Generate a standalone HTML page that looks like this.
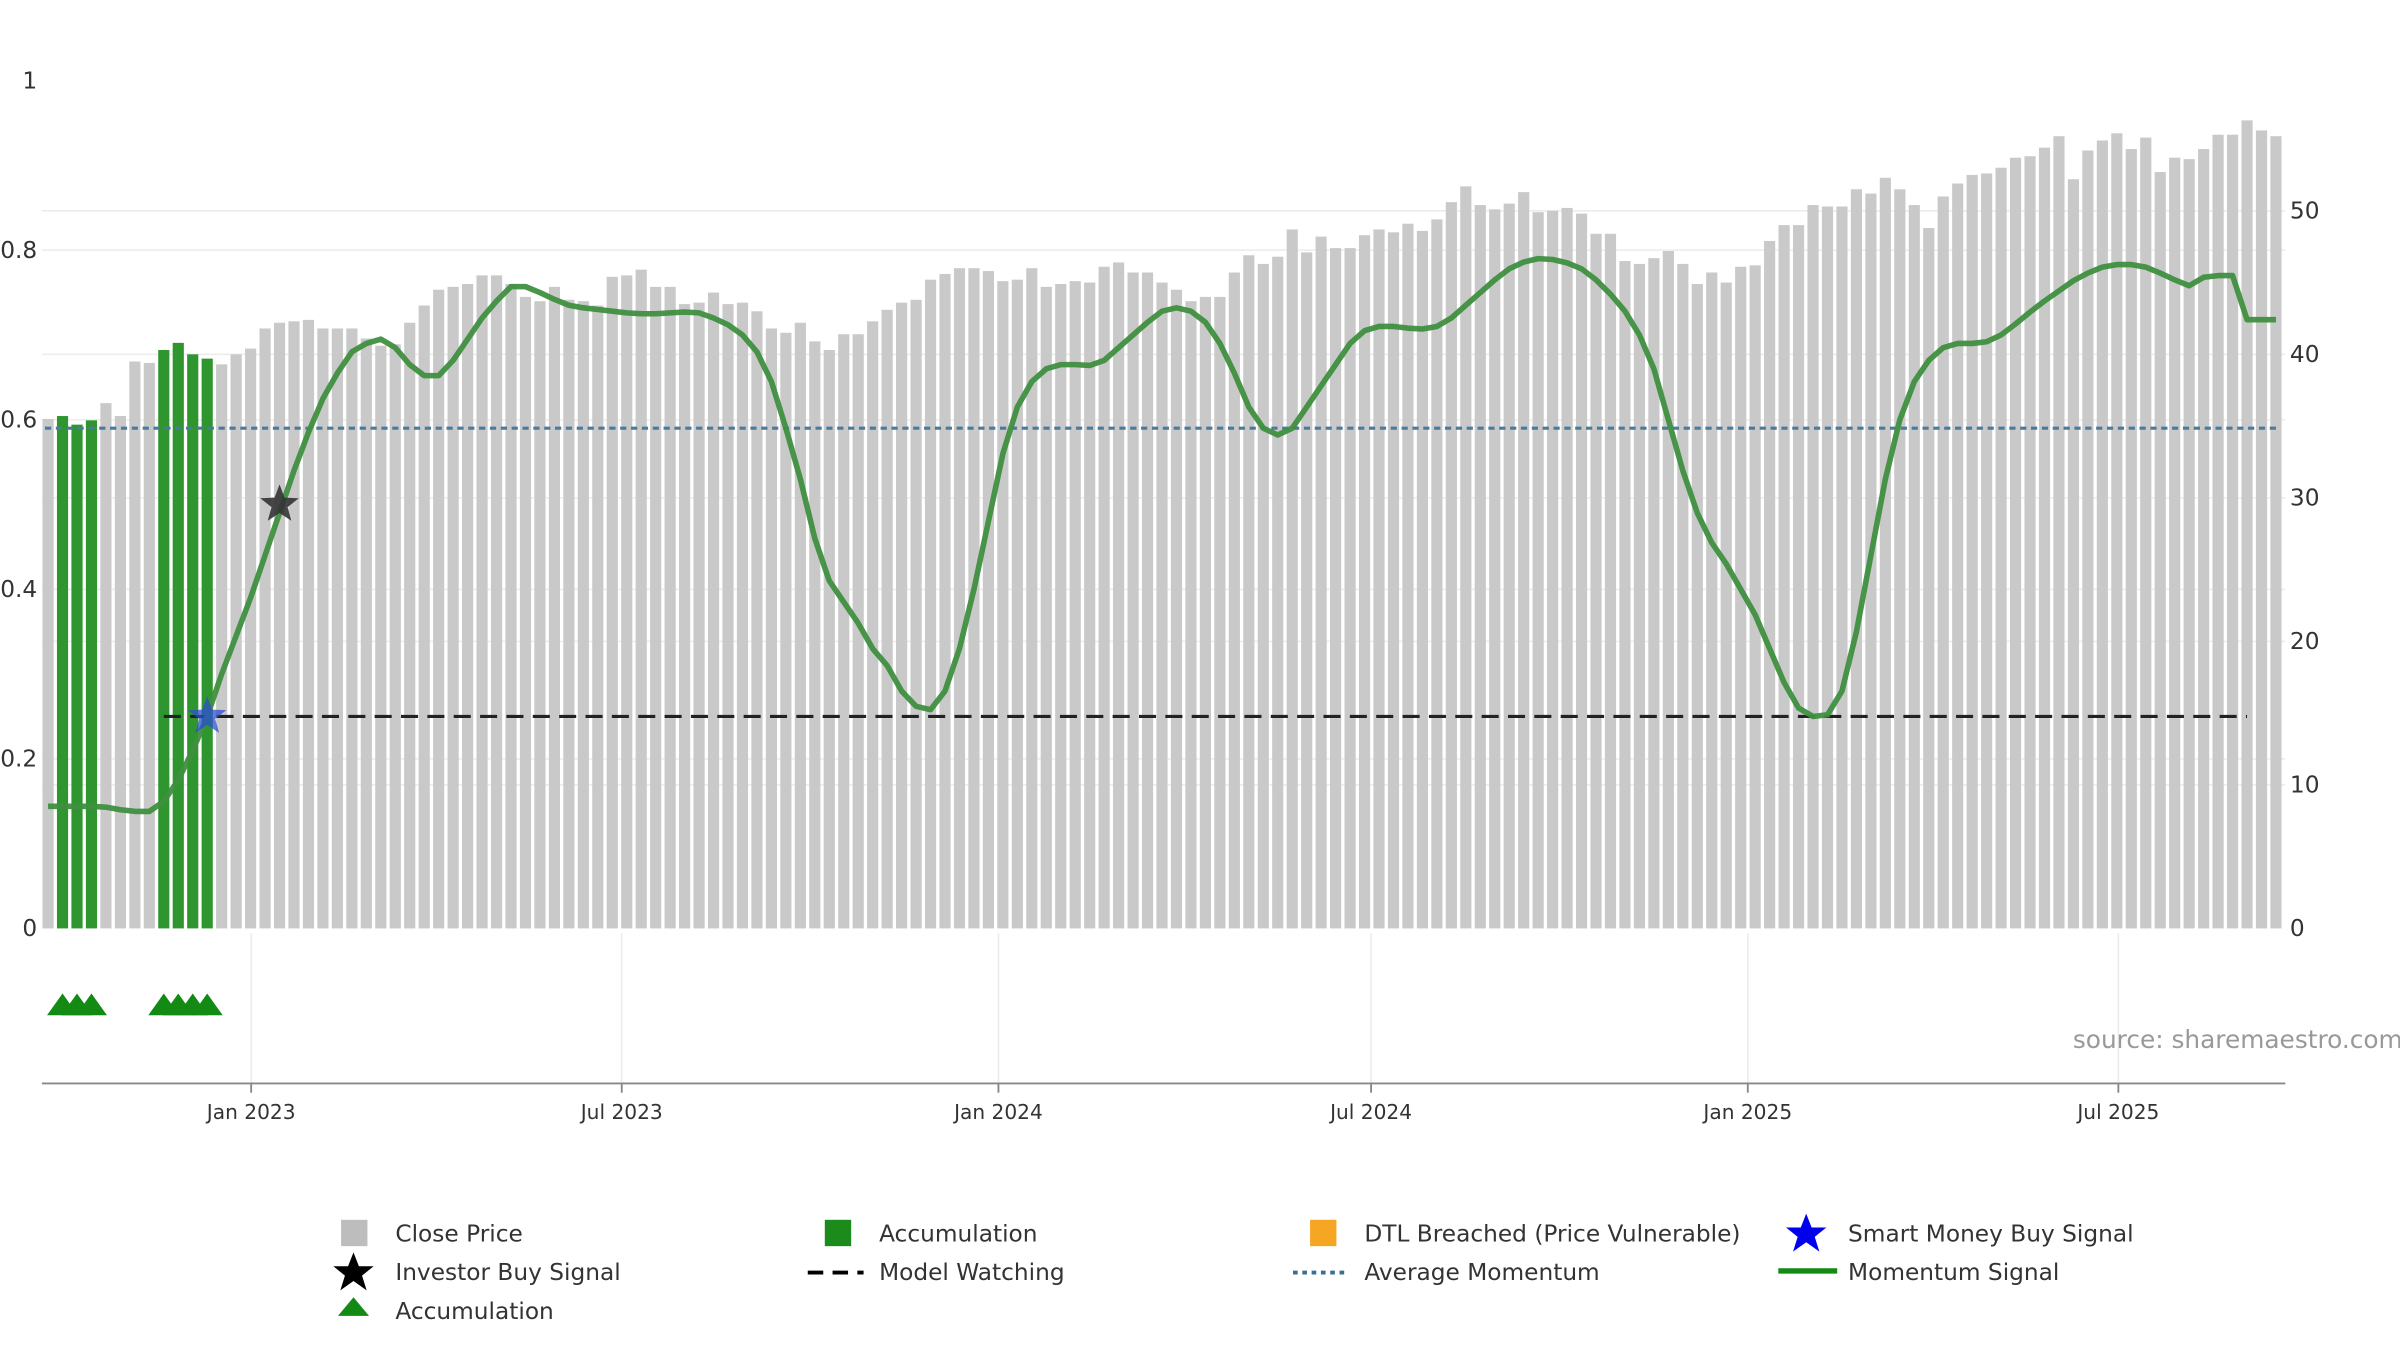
<!DOCTYPE html>
<html><head><meta charset="utf-8"><style>
html,body{margin:0;padding:0;background:#fff;}
svg{display:block;}
text{font-family:"DejaVu Sans","Liberation Sans",sans-serif;}
</style></head><body>
<svg id="chart" width="2400" height="1350" viewBox="0 0 1548 871" preserveAspectRatio="none" xmlns="http://www.w3.org/2000/svg">
<g id="grid"></g>
<g id="bars"></g>
<g id="lines"></g>
<g id="marks"></g>
<g id="axes"></g>
<text x="1337" y="676" font-size="16" fill="#999">source: sharemaestro.com</text>
<g font-size="15" fill="#333">
 <rect x="220" y="787" width="17" height="17" fill="#bdbdbd"/>
 <text x="255" y="801">Close Price</text>
 <rect x="532" y="787" width="17" height="17" fill="#1b8c1b"/>
 <text x="567" y="801">Accumulation</text>
 <rect x="845" y="787" width="17" height="17" fill="#f5a623"/>
 <text x="880" y="801">DTL Breached (Price Vulnerable)</text>
 <polygon points="1165,783 1168.5,792 1178,792 1170.5,798 1173.5,807.5 1165,801.5 1156.5,807.5 1159.5,798 1152,792 1161.5,792" fill="#0000ee"/>
 <text x="1192" y="801">Smart Money Buy Signal</text>
 <polygon points="228,808 231.5,817 241,817 233.5,823 236.5,832.5 228,826.5 219.5,832.5 222.5,823 215,817 224.5,817" fill="#000"/>
 <text x="255" y="826">Investor Buy Signal</text>
 <line x1="521" y1="821" x2="557" y2="821" stroke="#000" stroke-width="2.5" stroke-dasharray="10,6"/>
 <text x="567" y="826">Model Watching</text>
 <line x1="834" y1="821" x2="870" y2="821" stroke="#3a6e96" stroke-width="2.5" stroke-dasharray="3,3"/>
 <text x="880" y="826">Average Momentum</text>
 <line x1="1147" y1="820" x2="1185" y2="820" stroke="#138a13" stroke-width="3.5"/>
 <text x="1192" y="826">Momentum Signal</text>
 <polygon points="228,837 238,849 218,849" fill="#138a13"/>
 <text x="255" y="851">Accumulation</text>
</g>
</svg>
<script>
const prices = [35.5,35.7,35.1,35.4,36.6,35.7,39.5,39.4,40.3,40.8,40.0,39.7,39.3,40.0,40.4,41.8,42.2,42.3,42.4,41.8,41.8,41.8,41.1,40.6,40.7,42.2,43.4,44.5,44.7,44.9,45.5,45.5,44.9,44.0,43.7,44.7,43.8,43.7,43.4,45.4,45.5,45.9,44.7,44.7,43.5,43.6,44.3,43.5,43.6,43.0,41.8,41.5,42.2,40.9,40.3,41.4,41.4,42.3,43.1,43.6,43.8,45.2,45.6,46.0,46.0,45.8,45.1,45.2,46.0,44.7,44.9,45.1,45.0,46.1,46.4,45.7,45.7,45.0,44.5,43.7,44.0,44.0,45.7,46.9,46.3,46.8,48.7,47.1,48.2,47.4,47.4,48.3,48.7,48.5,49.1,48.6,49.4,50.6,51.7,50.4,50.1,50.5,51.3,49.9,50.0,50.2,49.8,48.4,48.4,46.5,46.3,46.7,47.2,46.3,44.9,45.7,45.0,46.1,46.2,47.9,49.0,49.0,50.4,50.3,50.3,51.5,51.2,52.3,51.5,50.4,48.8,51.0,51.9,52.5,52.6,53.0,53.7,53.8,54.4,55.2,52.2,54.2,54.9,55.4,54.3,55.1,52.7,53.7,53.6,54.3,55.3,55.3,56.3,55.6,55.2];
const momentum = [0.144,0.144,0.144,0.144,0.143,0.14,0.138,0.138,0.15,0.175,0.21,0.25,0.30,0.345,0.39,0.44,0.49,0.54,0.585,0.625,0.655,0.68,0.69,0.695,0.685,0.665,0.652,0.652,0.67,0.695,0.72,0.74,0.757,0.757,0.75,0.742,0.735,0.732,0.73,0.728,0.726,0.725,0.725,0.726,0.727,0.726,0.72,0.712,0.70,0.68,0.645,0.59,0.53,0.46,0.41,0.385,0.36,0.33,0.31,0.28,0.262,0.258,0.28,0.33,0.40,0.48,0.56,0.615,0.645,0.66,0.665,0.665,0.664,0.67,0.685,0.70,0.715,0.728,0.732,0.728,0.715,0.69,0.655,0.615,0.59,0.582,0.59,0.615,0.64,0.665,0.69,0.705,0.71,0.71,0.708,0.707,0.71,0.72,0.735,0.75,0.765,0.778,0.786,0.79,0.789,0.785,0.778,0.765,0.748,0.728,0.70,0.66,0.60,0.54,0.49,0.455,0.43,0.40,0.37,0.33,0.29,0.26,0.25,0.252,0.28,0.35,0.44,0.53,0.60,0.645,0.67,0.685,0.69,0.69,0.692,0.70,0.713,0.727,0.74,0.752,0.764,0.773,0.78,0.783,0.783,0.78,0.773,0.765,0.758,0.768,0.77,0.77,0.718,0.718,0.718];
const accumulationIdx = [1,2,3,8,9,10,11];
const investorBuyIdx = [16];
const investorBuyVal = [0.50];
const smartMoneyIdx = [11];
const smartMoneyVal = [0.25];
const avgMomentum = 0.59;
const modelWatching = 0.25;
const modelWatchStart = 8, modelWatchEnd = 152;
const leftTicks = [0,0.2,0.4,0.6,0.8,1];
const leftTickLabels = ["0","0.2","0.4","0.6","0.8","1"];
const rightTicks = [0,10,20,30,40,50];
const xTickDays = [0,181,365,547,731,912];
const xTickLabels = ["Jan 2023","Jul 2023","Jan 2024","Jul 2024","Jan 2025","Jul 2025"];

const NS="http://www.w3.org/2000/svg";
const PL=27, PR=1474, Y0=599;
const X0=31, X1=1468;
const xi = i => X0 + i*(X1-X0)/(prices.length-1);
const yL = v => Y0 - v*547;
const yR = v => Y0 - v*9.26;
const xDay = d => 162 + d*482/365;
function mk(tag, parent, attrs){const e=document.createElementNS(NS,tag);for(const k in attrs)e.setAttribute(k,attrs[k]);document.getElementById(parent).appendChild(e);return e;}

// gridlines
leftTicks.forEach((t,i)=>{ if(t>0&&t<1){const g=mk('line','grid',{x1:PL,x2:PR,y1:yL(t),y2:yL(t),stroke:'#ececec','stroke-width':1});

}});
rightTicks.forEach(t=>{ if(t>0){const g=mk('line','grid',{x1:PL,x2:PR,y1:yR(t),y2:yR(t),stroke:'#ececec','stroke-width':1});

}});
xTickDays.forEach(d=>{const g=mk('line','grid',{x1:xDay(d),x2:xDay(d),y1:602,y2:699,stroke:'#ececec','stroke-width':1});

});

// bars
prices.forEach((p,i)=>{
  const acc = accumulationIdx.includes(i);
  const b=mk('rect','bars',{x:xi(i)-3.6,y:yR(p),width:7.2,height:Y0-yR(p),fill:acc?'#2f962f':'#c9c9c9'});
  
  
});

// average momentum & model watching
const am=mk('line','lines',{x1:X0-2,x2:X1+2,y1:yL(avgMomentum),y2:yL(avgMomentum),stroke:'#4a7a9c','stroke-width':2,'stroke-dasharray':'4,3'});


const mw=mk('line','lines',{x1:xi(modelWatchStart),x2:xi(modelWatchEnd),y1:yL(modelWatching),y2:yL(modelWatching),stroke:'#222','stroke-width':2,'stroke-dasharray':'11,6'});



// momentum line
let d=''; momentum.forEach((v,i)=>{d+=(i?'L':'M')+xi(i).toFixed(2)+','+yL(v).toFixed(2);});
const ml=mk('path','lines',{d:d,fill:'none',stroke:'#3f8f3f','stroke-width':3.6,'stroke-linejoin':'round','stroke-opacity':0.95});



// stars
function starPts(cx,cy,R){let s='';for(let k=0;k<10;k++){const r=k%2?R*0.42:R;const a=-Math.PI/2+k*Math.PI/5;s+=(cx+r*Math.cos(a)).toFixed(1)+','+(cy+r*Math.sin(a)).toFixed(1)+' ';}return s;}
investorBuyIdx.forEach((ix,k)=>{const s=mk('polygon','marks',{points:starPts(xi(ix),yL(investorBuyVal[k]),13),fill:'#333','fill-opacity':0.9});

});
smartMoneyIdx.forEach((ix,k)=>{const s=mk('polygon','marks',{points:starPts(xi(ix),yL(smartMoneyVal[k]),13),fill:'#2b4fd0','fill-opacity':0.75});

});

// accumulation triangles
accumulationIdx.forEach(ix=>{const x=xi(ix);const t=mk('polygon','marks',{points:`${x},641 ${x+10},655 ${x-10},655`,fill:'#138a13'});

});

// axes
const ax=mk('line','axes',{x1:PL,x2:PR,y1:699,y2:699,stroke:'#888','stroke-width':1.2});


xTickDays.forEach((dd,i)=>{
  const tk=mk('line','axes',{x1:xDay(dd),x2:xDay(dd),y1:699,y2:705,stroke:'#888','stroke-width':1.2});
  
  
  const t=mk('text','axes',{x:xDay(dd),y:722,'text-anchor':'middle','font-size':13,fill:'#333'});
  t.textContent=xTickLabels[i];
  
  
});
leftTicks.forEach((v,i)=>{const t=mk('text','axes',{x:24,y:yL(v)+5,'text-anchor':'end','font-size':15,fill:'#333'});
t.textContent=leftTickLabels[i];

});
rightTicks.forEach(v=>{const t=mk('text','axes',{x:1477,y:yR(v)+5,'text-anchor':'start','font-size':15,fill:'#333'});
t.textContent=String(v);

});
</script>
</body></html>
